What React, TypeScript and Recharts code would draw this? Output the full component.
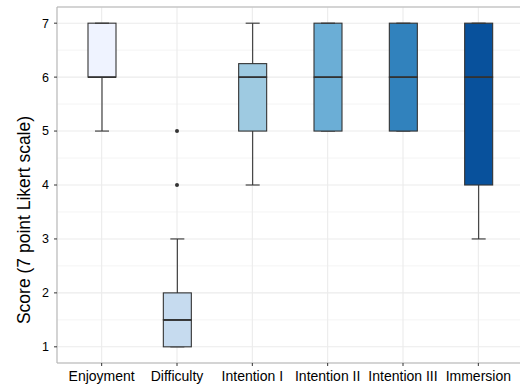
import { ComposedChart, Bar, Line, XAxis, YAxis, CartesianGrid, ReferenceLine, Label } from "recharts";

const categories = ["Enjoyment", "Difficulty", "Intention I", "Intention II", "Intention III", "Immersion"];
const mins = [5, 1, 4, 5, 5, 3];
const q1s = [6, 1, 5, 5, 5, 4];
const medians = [6, 1.5, 6, 6, 6, 6];
const q3s = [7, 2, 6.25, 7, 7, 7];
const maxs = [7, 3, 7, 7, 7, 7];
const outlierLow = [null, 4, null, null, null, null];
const outlierHigh = [null, 5, null, null, null, null];
const yTicks = [1, 2, 3, 4, 5, 6, 7];
const minorTicks = [1.5, 2.5, 3.5, 4.5, 5.5, 6.5];

const FILLS = ["#eff3ff", "#c6dbef", "#9ecae1", "#6baed6", "#3182bd", "#08519c"];
const INK = "#333333";

// stacked segments: base -> lower whisker -> lower box -> upper box -> upper whisker
const data = categories.map((name, i) => ({
  name,
  base: mins[i],
  lowWhisker: q1s[i] - mins[i],
  lowBox: medians[i] - q1s[i],
  highBox: q3s[i] - medians[i],
  highWhisker: maxs[i] - q3s[i],
  outA: outlierLow[i],
  outB: outlierHigh[i],
}));

const whisker = (capAtTop: boolean) => (props: any) => {
  const { x, y, width, height } = props;
  const top = Math.min(y, y + height);
  const bottom = Math.max(y, y + height);
  const cx = x + width / 2;
  const capY = capAtTop ? top : bottom;
  return (
    <g>
      <line x1={cx} x2={cx} y1={top} y2={bottom} stroke={INK} strokeWidth={1.1} />
      <line x1={cx - 7} x2={cx + 7} y1={capY} y2={capY} stroke={INK} strokeWidth={1.1} />
    </g>
  );
};

const box = (isUpper: boolean) => (props: any) => {
  const { x, y, width, height, index } = props;
  const top = Math.min(y, y + height);
  const h = Math.abs(height);
  const medY = isUpper ? top + h : top;
  return (
    <g>
      <rect x={x} y={top} width={width} height={h} fill={FILLS[index]} stroke={INK} strokeWidth={1.1} />
      <line x1={x} x2={x + width} y1={medY} y2={medY} stroke={INK} strokeWidth={1.6} />
    </g>
  );
};

const yLabel = () => (
  <text
    x={24}
    y={220}
    transform="rotate(-90 24 220)"
    textAnchor="middle"
    dominantBaseline="central"
    fontSize={17.5}
    fontFamily="Liberation Sans, Arial, sans-serif"
    fill="#000"
  >
    Score (7 point Likert scale)
  </text>
);

export default function App() {
  return (
    <div style={{ position: "absolute", left: 0, top: 0, width: 520, height: 386, overflow: "hidden", background: "#fff" }}>
      <ComposedChart
        width={523}
        height={386}
        data={data}
        margin={{ top: 7, right: 0, bottom: 0, left: 0 }}
        style={{ fontFamily: "Liberation Sans, Arial, sans-serif" }}
      >
        <CartesianGrid stroke="#f4f4f4" vertical={false} horizontalValues={minorTicks} />
        <CartesianGrid stroke="#ebebeb" strokeWidth={1.1} />
        <ReferenceLine y={7.3} stroke="#b3b3b3" ifOverflow="visible" />
        <XAxis
          dataKey="name"
          height={23}
          interval={0}
          padding={{ left: 7, right: 7 }}
          tickSize={3}
          tickMargin={5}
          axisLine={{ stroke: "#b3b3b3" }}
          tickLine={{ stroke: INK }}
          tick={{ fill: "#000", fontSize: 14 }}
        />
        <YAxis
          type="number"
          width={57}
          domain={[0.7, 7.3]}
          allowDataOverflow
          ticks={yTicks}
          tickSize={3}
          tickMargin={5}
          axisLine={{ stroke: "#b3b3b3" }}
          tickLine={{ stroke: INK }}
          tick={{ fill: "#000", fontSize: 12.5 }}
        >
          <Label content={yLabel} />
        </YAxis>
        <Bar dataKey="base" stackId="b" barSize={28} fill="none" isAnimationActive={false} />
        <Bar dataKey="lowWhisker" stackId="b" barSize={28} shape={whisker(false)} isAnimationActive={false} />
        <Bar dataKey="lowBox" stackId="b" barSize={28} shape={box(false)} isAnimationActive={false} />
        <Bar dataKey="highBox" stackId="b" barSize={28} shape={box(true)} isAnimationActive={false} />
        <Bar dataKey="highWhisker" stackId="b" barSize={28} shape={whisker(true)} isAnimationActive={false} />
        <Line dataKey="outA" stroke="none" dot={{ r: 2, fill: INK, stroke: "none" }} activeDot={false} isAnimationActive={false} />
        <Line dataKey="outB" stroke="none" dot={{ r: 2, fill: INK, stroke: "none" }} activeDot={false} isAnimationActive={false} />
      </ComposedChart>
    </div>
  );
}
